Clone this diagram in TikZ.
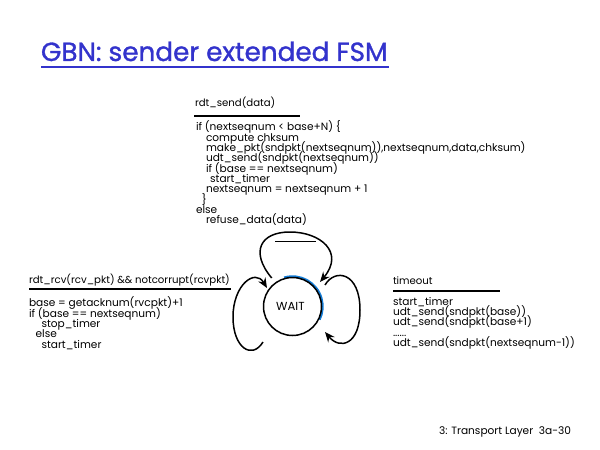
\documentclass[tikz,border=0pt]{standalone}
\usepackage{fontspec}
\setmainfont{Poppins}
\newfontfamily\titlefont[FakeBold=1.2]{Poppins}
\usetikzlibrary{arrows.meta}
\definecolor{titleblue}{RGB}{51,51,204}
\definecolor{arcblue}{RGB}{20,125,215}
\newcommand{\ind}[1]{\hspace*{#1pt}}
\newcommand{\codefont}{\fontsize{12.7pt}{12.4pt}\selectfont\lineskiplimit-20pt\relax}
\begin{document}
\begin{tikzpicture}[x=1.2pt,y=-1.2pt,
  every node/.style={inner sep=0pt,outer sep=0pt},
  code/.style={font=\codefont,align=left,anchor=north west},
  event/.style={font=\fontsize{12.2pt}{12.4pt}\selectfont,anchor=west},
  bar/.style={line width=2.4pt},
  loop/.style={line width=1.8pt,-{Stealth[length=12pt,width=10pt]}}]
\useasboundingbox (0,0) rectangle (600,450);
% title
\node [anchor=base west,text=titleblue,font=\titlefont\fontsize{31.5pt}{33pt}\selectfont] (title) at (41,61) {GBN: sender extended FSM};
\draw [titleblue,line width=2.4pt] (41,67) -- (389,67);
% the state
\draw [arcblue,line width=3pt] (284.2,277.7) arc (-106:26:30);
\node [draw,circle,line width=1.8pt,minimum size=69.6pt,font=\fontsize{14pt}{14pt}\selectfont] (wait) at (292.5,306.5) {\hspace*{-5pt}WAIT};
% rdt_send(data)
\node [event] (sendev) at (195,103) {rdt\_send(data)};
\draw [bar] (194,116) -- (300,116);
\node [code] (sendact) at (196,121) {if (nextseqnum < base+N) \{\\
\ind{12}compute chksum\\
\ind{12}make\_pkt(sndpkt(nextseqnum)),nextseqnum,data,chksum)\\
\ind{12}udt\_send(sndpkt(nextseqnum))\\
\ind{12}if (base == nextseqnum)\\
\ind{17}start\_timer\\
\ind{12}nextseqnum = nextseqnum + 1\\
\ind{7}\}\\
else\\
\ind{12}refuse\_data(data)};
% rdt_rcv
\node [event] (rcvev) at (29,280) {rdt\_rcv(rcv\_pkt) \&\& notcorrupt(rcvpkt)};
\draw [bar] (29,289) -- (231,289);
\node [code] (rcvact) at (29,297) {base = getacknum(rvcpkt)+1\\
if (base == nextseqnum)\\
\ind{15}stop\_timer\\
\ind{8}else\\
\ind{15}start\_timer};
% timeout
\node [event] (toev) at (393,281) {timeout};
\draw [bar] (393,291) -- (500,291);
\node [code] (toact) at (393,297) {start\_timer\\
udt\_send(sndpkt(base))\\
udt\_send(sndpkt(base+1)\\
......\\
udt\_send(sndpkt(nextseqnum-1))};
% self loops
\draw [loop] (271.7,278) .. controls (250,252) and (260,232) .. (290,232)
  .. controls (320,232) and (345,252) .. (320,282); % top
\draw [line width=1.2pt] (275,241) -- (316,241);
\draw [loop] (263,342) .. controls (252,360) and (233,348) .. (233,317)
  .. controls (233,285) and (255,268) .. (267,288); % left
\draw [loop] (325,285) .. controls (335,268) and (360,272) .. (360,310)
  .. controls (360,345) and (340,350) .. (325,332); % right
% footer
\node [anchor=east,font=\fontsize{12.7pt}{12.7pt}\selectfont] (foot) at (571,432) {3: Transport Layer\ \ 3a-30};
\end{tikzpicture}
\end{document}
